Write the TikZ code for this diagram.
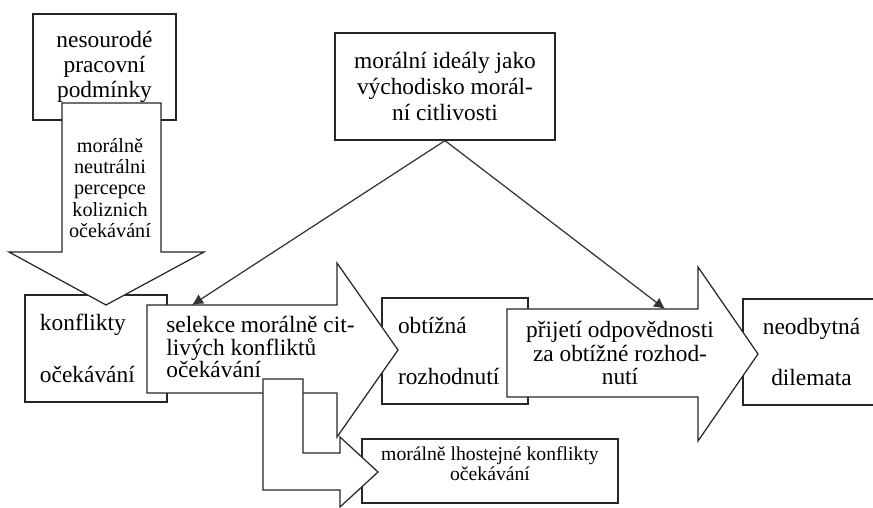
\documentclass[tikz,border=0pt]{standalone}
\usepackage{fontspec}
\setmainfont{Liberation Serif}
\usetikzlibrary{arrows.meta, positioning}

\begin{document}
\begin{tikzpicture}[
  tbox/.style={rectangle, draw=black!85, fill=white, line width=0.7pt, inner sep=0pt,
               align=center, font=\fontsize{13.3}{14.2}\selectfont},
  lbox/.style={rectangle, draw=black!85, fill=white, line width=0.7pt, inner ysep=0pt,
               align=left, font=\fontsize{13.3}{14.5}\selectfont},
  barr/.style={draw=black!85, fill=white, line width=0.7pt},
  atxt/.style={inner sep=0pt, align=center, font=\fontsize{11.5}{12.2}\selectfont},
  conn/.style={draw=black!80, line width=0.7pt, -{Latex[length=2.2mm, width=2.2mm]}}
]
\useasboundingbox (0,0) rectangle (17.46,10.16);

%% rámečky (kreslí se první, šipky je částečně překryjí)
\node[tbox, minimum width=2.86cm, minimum height=2.12cm] (nes) at (2.09, 8.82) {nesourodé\\pracovní\\podmínky};
\node[tbox, minimum width=4.40cm, minimum height=2.14cm,
      font=\fontsize{13.3}{14.8}\selectfont] (ideal) at (8.90, 8.43) {morální ideály jako\\východisko morál-\\ní citlivosti};
\node[lbox, text width=2.24cm, inner xsep=0.30cm, minimum height=2.14cm] (konf) at (1.92, 3.19) {konflikty\\[15pt]očekávání};
\node[lbox, text width=2.28cm, inner xsep=0.32cm, minimum height=2.12cm] (obt) at (9.10, 3.14) {obtížná\\[14pt]rozhodnutí};
\node[tbox, minimum width=2.74cm, minimum height=2.12cm] (neo) at (16.23, 3.12) {neodbytná\\[14.8pt]dilemata};
\node[tbox, minimum width=5.12cm, minimum height=1.28cm, text depth=0.3cm,
      font=\fontsize{11.2}{11.4}\selectfont] (lhost) at (9.80, 0.74) {morálně lhostejné konflikty\\očekávání};

%% šipka dolů
\draw[barr] (1.24,8.10) -- (3.22,8.10) -- (3.22,5.12) -- (4.08,5.12) -- (2.12,4.06)
            -- (0.18,5.12) -- (1.24,5.12) -- cycle;
\node[atxt] (neutr) at (2.20, 6.40) {morálně\\neutrálni\\percepce\\koliznich\\očekávání};

%% selekce
\draw[barr] (2.94,4.06) -- (6.74,4.06) -- (6.74,4.90) -- (7.96,3.16) -- (6.74,1.42)
            -- (6.74,2.30) -- (2.94,2.30) -- cycle;
\node[inner sep=0pt, anchor=west, align=left, font=\fontsize{13.3}{12.9}\selectfont] (sel) at (3.32, 3.22)
      {selekce morálně cit-\\livých konfliktů\\očekávání};
\coordinate (selin) at (3.84, 4.06);

%% lomená šipka
\draw[barr] (5.26,2.58) -- (6.06,2.58) -- (6.06,1.10) -- (6.80,1.10) -- (6.80,1.42) -- (7.56,0.72)
            -- (6.80,0.02) -- (6.80,0.36) -- (5.26,0.36) -- cycle;

%% přijetí odpovědnosti
\draw[barr] (10.14,3.98) -- (13.96,3.98) -- (13.96,4.82) -- (15.16,3.08) -- (13.96,1.34)
            -- (13.96,2.22) -- (10.14,2.22) -- cycle;
\node[inner sep=0pt, align=center, font=\fontsize{13.3}{13.4}\selectfont] (prij) at (12.40, 3.10)
      {přijetí odpovědnosti\\za obtížné rozhod-\\nutí};
\coordinate (prijin) at (13.30, 3.98);

%% od ideálů
\draw[conn] (ideal.south) -- (selin);
\draw[conn] (ideal.south) -- (prijin);

\end{tikzpicture}
\end{document}
